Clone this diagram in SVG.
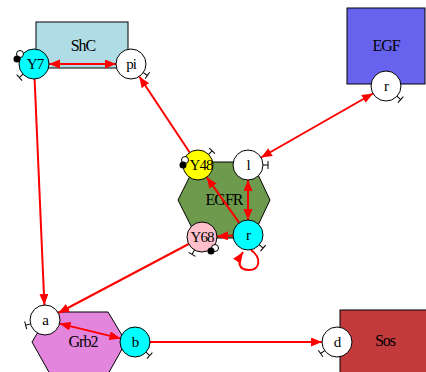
<svg xmlns="http://www.w3.org/2000/svg" width="426" height="372" viewBox="0 0 426 372">
<defs>
<marker id="ah" markerUnits="userSpaceOnUse" markerWidth="12" markerHeight="10" refX="11" refY="4.5" orient="auto-start-reverse">
<path d="M0,0 L11,4.5 L0,9 z" fill="#ff0000"/>
</marker>
<style>
.t{font-family:"Liberation Serif","Times New Roman",serif;font-size:15px;letter-spacing:-1px;text-anchor:middle;dominant-baseline:central;fill:#000}
.L{font-size:16px}
.c{stroke:#000;stroke-width:1}
.e{fill:none;stroke:#ff0000;stroke-width:2}
.tee{fill:none;stroke:#000;stroke-width:1}
.dw{fill:#fff;stroke:#000;stroke-width:1}
.db{fill:#000}
</style>
</defs>
<rect width="426" height="372" fill="#fff"/>
<g id="ShC">
<rect x="36" y="22" width="92" height="46" fill="#b0dce6" class="c"/>
<text class="t L" x="83" y="45">ShC</text>
</g>
<g id="EGF">
<rect x="347" y="8" width="78" height="76" fill="#6863ef" class="c"/>
<text class="t L" x="386" y="45">EGF</text>
</g>
<g id="EGFR">
<polygon points="178,200 197,162 252,162 270,200 252,238 197,238" fill="#6d9a4c" class="c"/>
<text class="t L" x="224" y="199">EGFR</text>
</g>
<g id="Grb2">
<polygon points="32,342 50,312 108,312 126,342 108,374 50,374" fill="#e385dd" class="c"/>
<text class="t L" x="83" y="341">Grb2</text>
</g>
<g id="Sos">
<rect x="340" y="310" width="90" height="66" fill="#c23a3b" class="c"/>
<text class="t L" x="385" y="340">Sos</text>
</g>
<g id="connectors">
<line class="e" x1="49" y1="64" x2="116" y2="64" marker-start="url(#ah)" marker-end="url(#ah)"/>
<line class="e" x1="34.6" y1="79" x2="44.4" y2="305" marker-end="url(#ah)"/>
<line class="e" x1="188.7" y1="244" x2="58.3" y2="313" marker-end="url(#ah)"/>
<line class="e" x1="59.6" y1="323.6" x2="120.4" y2="338.4" marker-start="url(#ah)" marker-end="url(#ah)"/>
<line class="e" x1="150" y1="342" x2="322" y2="342" marker-end="url(#ah)"/>
<line class="e" x1="189.7" y1="152.5" x2="139.3" y2="76.5" marker-end="url(#ah)"/>
<line class="e" x1="239.3" y1="222.8" x2="206.7" y2="177.2" marker-end="url(#ah)"/>
<line class="e" x1="248" y1="180" x2="248" y2="220" marker-start="url(#ah)" marker-end="url(#ah)"/>
<line class="e" x1="233" y1="235.6" x2="217" y2="236.4" marker-end="url(#ah)"/>
<line class="e" x1="373" y1="93.5" x2="261" y2="157.5" marker-start="url(#ah)" marker-end="url(#ah)"/>
<path class="e" d="M251,250 C262,258 260,270 249,270 C238,270 237,261 243,252" marker-end="url(#ah)"/>
</g>
<g id="Y7">
<circle cx="34" cy="64" r="15" fill="#00ffff" class="c"/>
<text class="t" x="35" y="64">Y7</text>
<path class="tee" transform="translate(34,64) rotate(137) translate(15,0)" d="M0,0 L5,0 M5,-4 L5,4"/>
<circle class="dw" cx="20" cy="54" r="3.5"/>
<circle class="db" cx="17" cy="59" r="3.5"/>
</g>
<g id="pi">
<circle cx="131" cy="64" r="15" fill="#fff" class="c"/>
<text class="t" x="131" y="64">pi</text>
<path class="tee" transform="translate(131,64) rotate(35) translate(15,0)" d="M0,0 L5,0 M5,-4 L5,4"/>
</g>
<g id="EGF_r">
<circle cx="386" cy="86" r="15" fill="#fff" class="c"/>
<text class="t" x="386" y="86">r</text>
<path class="tee" transform="translate(386,86) rotate(43) translate(15,0)" d="M0,0 L5,0 M5,-4 L5,4"/>
</g>
<g id="Y48">
<circle cx="198" cy="165" r="15" fill="#ffff00" class="c"/>
<text class="t" x="201" y="165">Y48</text>
<path class="tee" transform="translate(198,165) rotate(-45) translate(15,0)" d="M0,0 L5,0 M5,-4 L5,4"/>
<circle class="dw" cx="185" cy="160" r="3.5"/>
<circle class="db" cx="183" cy="165" r="3.5"/>
</g>
<g id="l">
<circle cx="248" cy="165" r="15" fill="#fff" class="c"/>
<text class="t" x="248" y="165">l</text>
<path class="tee" transform="translate(248,165) rotate(0) translate(15,0)" d="M0,0 L5,0 M5,-4 L5,4"/>
</g>
<g id="Y68">
<circle cx="202" cy="237" r="15" fill="#ffc0cb" class="c"/>
<text class="t" x="202" y="237">Y68</text>
<path class="tee" transform="translate(202,237) rotate(120) translate(15,0)" d="M0,0 L5,0 M5,-4 L5,4"/>
<circle class="dw" cx="215" cy="248" r="3.5"/>
<circle class="db" cx="211" cy="251" r="3.5"/>
</g>
<g id="EGFR_r">
<circle cx="248" cy="235" r="15" fill="#00ffff" class="c"/>
<text class="t" x="248" y="235">r</text>
<path class="tee" transform="translate(248,235) rotate(41) translate(15,0)" d="M0,0 L5,0 M5,-4 L5,4"/>
</g>
<g id="a">
<circle cx="45" cy="320" r="15" fill="#fff" class="c"/>
<text class="t" x="45" y="320">a</text>
<path class="tee" transform="translate(45,320) rotate(165) translate(15,0)" d="M0,0 L5,0 M5,-4 L5,4"/>
</g>
<g id="b">
<circle cx="135" cy="342" r="15" fill="#00ffff" class="c"/>
<text class="t" x="135" y="342">b</text>
<path class="tee" transform="translate(135,342) rotate(43) translate(15,0)" d="M0,0 L5,0 M5,-4 L5,4"/>
</g>
<g id="d">
<circle cx="337" cy="342" r="15" fill="#fff" class="c"/>
<text class="t" x="337" y="342">d</text>
<path class="tee" transform="translate(337,342) rotate(145) translate(15,0)" d="M0,0 L5,0 M5,-4 L5,4"/>
</g>
</svg>
